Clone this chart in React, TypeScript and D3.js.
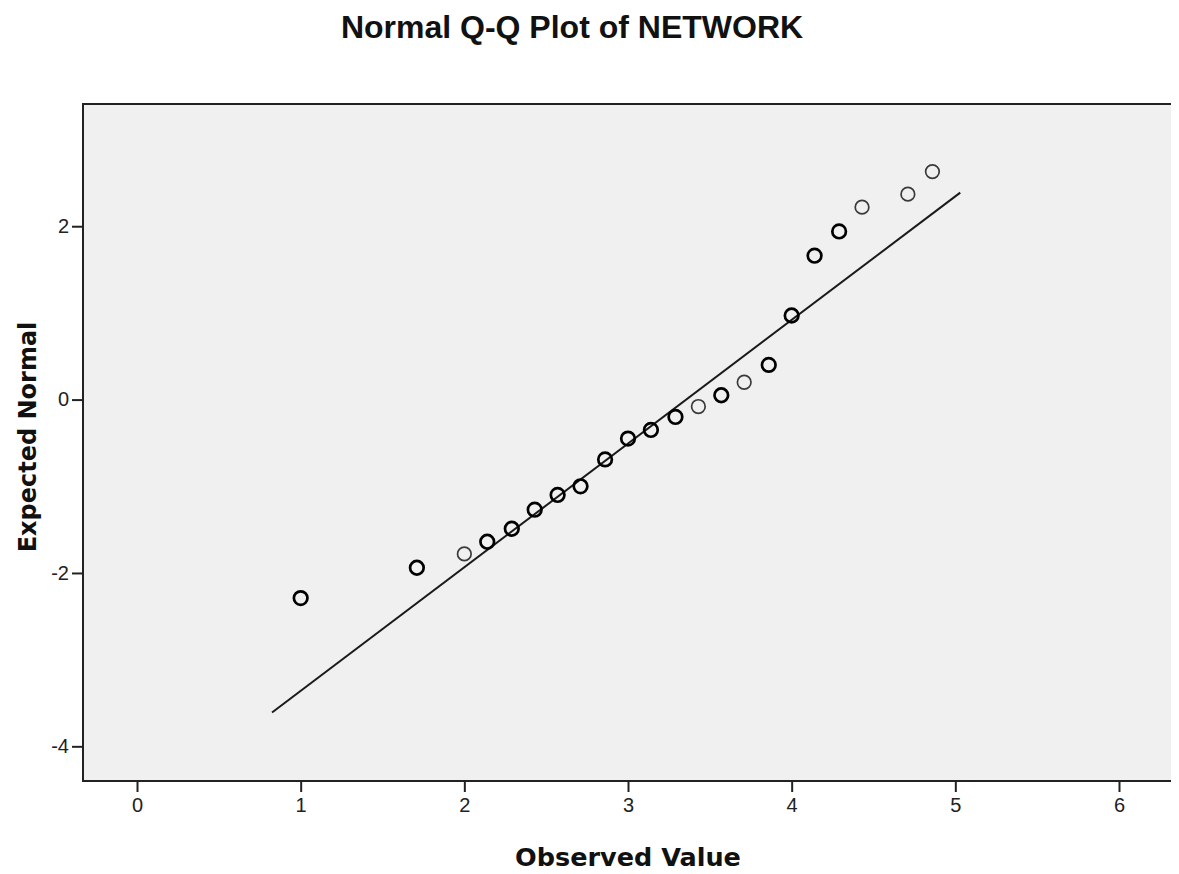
import React, { useEffect, useRef } from 'react';
import * as d3 from 'd3';

const title = 'Normal Q-Q Plot of NETWORK';
const xLabel = 'Observed Value';
const yLabel = 'Expected Normal';

// observed values, their expected normal scores and how many cases sit on each point
const observed = [1.0, 1.71, 2.0, 2.14, 2.29, 2.43, 2.57, 2.71, 2.86, 3.0, 3.14, 3.29, 3.43, 3.57, 3.71, 3.86, 4.0, 4.14, 4.29, 4.43, 4.71, 4.86];
const expected = [-2.29, -1.94, -1.78, -1.64, -1.49, -1.27, -1.1, -1.0, -0.69, -0.45, -0.35, -0.2, -0.08, 0.05, 0.2, 0.4, 0.97, 1.66, 1.94, 2.22, 2.37, 2.63];
const counts = [2, 2, 1, 2, 2, 2, 2, 2, 2, 2, 2, 2, 1, 2, 1, 2, 2, 2, 2, 1, 1, 1];

const xTicks = [0, 1, 2, 3, 4, 5, 6];
const yTicks = [-4, -2, 0, 2];

// reference line: mean and standard deviation of the sample
const lineMean = 3.356;
const lineSd = 0.701;
const lineRange = [0.825, 5.03];

const W = 1179;
const H = 874;
const plot = { left: 83, right: 1173, top: 104, bottom: 781 };

const QQPlot = () => {
  const ref = useRef<SVGSVGElement>(null);

  useEffect(() => {
    const svg = d3.select(ref.current);
    svg.selectAll('*').remove();

    const x = d3.scaleLinear().domain([-0.33, 6.33]).range([plot.left, plot.right]);
    const y = d3.scaleLinear().domain([-4.4, 3.41]).range([plot.bottom, plot.top]);

    svg.append('rect')
      .attr('x', plot.left)
      .attr('y', plot.top)
      .attr('width', plot.right - plot.left)
      .attr('height', plot.bottom - plot.top)
      .attr('fill', '#f0f0f0');

    const line = d3.line<number>()
      .x(d => x(d))
      .y(d => y((d - lineMean) / lineSd));

    svg.append('path')
      .attr('d', line(lineRange))
      .attr('fill', 'none')
      .attr('stroke', '#1a1a1a')
      .attr('stroke-width', 2);

    const pts = observed.map((v, i) => ({ v, e: expected[i], n: counts[i] }));

    svg.selectAll('circle.pt')
      .data(pts)
      .enter()
      .append('circle')
      .attr('class', 'pt')
      .attr('cx', d => x(d.v))
      .attr('cy', d => y(d.e))
      .attr('r', 6.8)
      .attr('fill', 'none')
      .attr('stroke', d => (d.n > 1 ? '#000' : '#3a3a3a'))
      .attr('stroke-width', d => (d.n > 1 ? 2.7 : 1.7));

    const fmt = (d: d3.NumberValue) => String(d);

    const xAxis = svg.append('g')
      .attr('transform', `translate(0,${plot.bottom})`)
      .call(d3.axisBottom(x).tickValues(xTicks).tickSize(11).tickSizeOuter(0).tickPadding(6).tickFormat(fmt));
    xAxis.select('.domain').remove();
    xAxis.selectAll('line').attr('stroke', '#222').attr('stroke-width', 2);
    xAxis.selectAll('text')
      .style('font-family', '"Liberation Sans", Arial, sans-serif')
      .style('font-size', '20px')
      .attr('fill', '#222');

    const yAxis = svg.append('g')
      .attr('transform', `translate(${plot.left},0)`)
      .call(d3.axisLeft(y).tickValues(yTicks).tickSize(11).tickSizeOuter(0).tickPadding(3).tickFormat(fmt));
    yAxis.select('.domain').remove();
    yAxis.selectAll('line').attr('stroke', '#222').attr('stroke-width', 2);
    yAxis.selectAll('text')
      .style('font-family', '"Liberation Sans", Arial, sans-serif')
      .style('font-size', '20px')
      .attr('fill', '#222');

    svg.append('rect')
      .attr('x', plot.left)
      .attr('y', plot.top)
      .attr('width', plot.right - plot.left)
      .attr('height', plot.bottom - plot.top)
      .attr('fill', 'none')
      .attr('stroke', '#222')
      .attr('stroke-width', 2);

    svg.append('text')
      .attr('x', 572)
      .attr('y', 38)
      .attr('text-anchor', 'middle')
      .style('font-family', '"Liberation Sans", Arial, sans-serif')
      .style('font-weight', 'bold')
      .style('font-size', '32px')
      .attr('fill', '#111')
      .text(title);

    svg.append('text')
      .attr('x', 628)
      .attr('y', 866)
      .attr('text-anchor', 'middle')
      .style('font-family', '"DejaVu Sans", Verdana, sans-serif')
      .style('font-weight', 'bold')
      .style('font-size', '25.5px')
      .attr('fill', '#111')
      .text(xLabel);

    svg.append('text')
      .attr('transform', `translate(36,437) rotate(-90)`)
      .attr('text-anchor', 'middle')
      .style('font-family', '"DejaVu Sans", Verdana, sans-serif')
      .style('font-weight', 'bold')
      .style('font-size', '24px')
      .attr('fill', '#111')
      .text(yLabel);
  }, []);

  return <svg ref={ref} width={W} height={H} style={{ display: 'block' }} />;
};

export default function App() {
  return (
    <div style={{ margin: -8 }}>
      <QQPlot />
    </div>
  );
}
